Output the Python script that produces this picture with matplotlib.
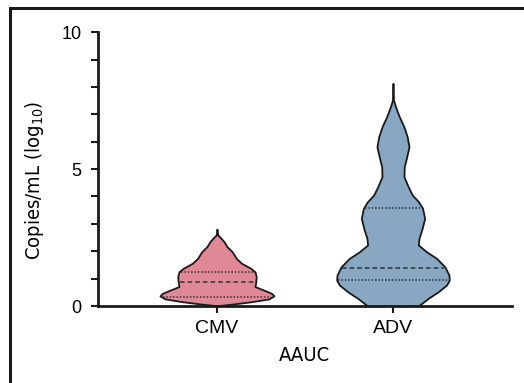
import numpy as np
import matplotlib.pyplot as plt
from matplotlib.lines import Line2D

plt.rcParams['mathtext.fontset'] = 'custom'
plt.rcParams['mathtext.rm'] = 'DejaVu Sans:stretch=condensed'

groups = ['CMV', 'ADV']
colors = ['#E08896', '#87A7C3']

# density outlines: level (log10 copies/mL) and half width of the violin
cmv_levels = [0.01, 0.07, 0.16, 0.26, 0.37, 0.46, 0.58, 0.71, 0.86, 1.07, 1.25, 1.38,
              1.56, 1.74, 1.98, 2.17, 2.35, 2.49, 2.60, 2.81]
cmv_half = [0.0, 0.087, 0.199, 0.295, 0.324, 0.311, 0.267, 0.216, 0.220, 0.223, 0.216, 0.191,
            0.140, 0.110, 0.087, 0.057, 0.040, 0.021, 0.004, 0.0]
adv_levels = [0.00, 0.28, 0.52, 0.77, 0.95, 1.13, 1.43, 1.74, 1.98, 2.23, 2.47, 2.84,
              3.20, 3.57, 3.81, 4.05, 4.35, 4.72, 5.08, 5.45, 5.81, 6.18, 6.54, 6.91,
              7.27, 7.52, 8.13]
adv_half = [0.144, 0.200, 0.257, 0.305, 0.320, 0.318, 0.295, 0.248, 0.191, 0.144, 0.148, 0.166,
            0.180, 0.168, 0.145, 0.110, 0.087, 0.0625, 0.064, 0.078, 0.091, 0.081, 0.0625, 0.036,
            0.015, 0.003, 0.0]

cmv_quartiles = [0.34, 0.88, 1.25]
adv_quartiles = [0.95, 1.40, 3.59]

profiles = [(cmv_levels, cmv_half, cmv_quartiles), (adv_levels, adv_half, adv_quartiles)]

fig = plt.figure(figsize=(5.24, 3.83), dpi=100)
ax = fig.add_axes([0.187, 0.201, 0.79, 0.715])

for i, (lev, half, quart) in enumerate(profiles):
    lev = np.array(lev)
    half = np.array(half)
    ax.fill_betweenx(lev, i - half, i + half, facecolor=colors[i],
                     edgecolor='#1a1a1a', linewidth=1.3, zorder=2)
    for k, q in enumerate(quart):
        w = np.interp(q, lev, half)
        ls = (0, (3, 2)) if k == 1 else (0, (1, 1.2))
        ax.plot([i - w + 0.01, i + w - 0.01], [q, q], color='#333333',
                linestyle=ls, linewidth=1.1, zorder=3)

ax.set_xlim(-0.676, 1.676)
ax.set_ylim(0, 10)
ax.set_xticks(range(len(groups)))
ax.set_xticklabels(groups, fontsize=14, family='Liberation Sans')
ax.set_yticks([0, 5, 10])
ax.set_yticks(range(11), minor=True)
ax.set_yticklabels(['0', '5', '10'], fontsize=13, family='Liberation Sans')
ax.tick_params(axis='both', which='both', length=5, width=1.5, color='#1a1a1a')
ax.tick_params(axis='x', pad=5)
ax.tick_params(axis='y', pad=7)

for s in ['top', 'right']:
    ax.spines[s].set_visible(False)
for s in ['left', 'bottom']:
    ax.spines[s].set_linewidth(2)
    ax.spines[s].set_color('#1a1a1a')

ax.set_ylabel(r'Copies/mL (log$\mathrm{_{10}}$)', fontsize=14.5, family='DejaVu Sans',
              fontstretch='condensed')
ax.yaxis.set_label_coords(-0.125, 0.46)
ax.set_xlabel('AAUC', fontsize=14.5, family='DejaVu Sans', fontstretch='condensed')
ax.xaxis.set_label_coords(0.5, -0.145)

# partial frame round the panel
fig.add_artist(Line2D([0.02, 0.02], [0.0, 0.978], transform=fig.transFigure,
                      color='#1a1a1a', linewidth=2.2))
fig.add_artist(Line2D([0.02, 1.0], [0.978, 0.978], transform=fig.transFigure,
                      color='#1a1a1a', linewidth=2.2))

fig.savefig('out.png', dpi=100)
